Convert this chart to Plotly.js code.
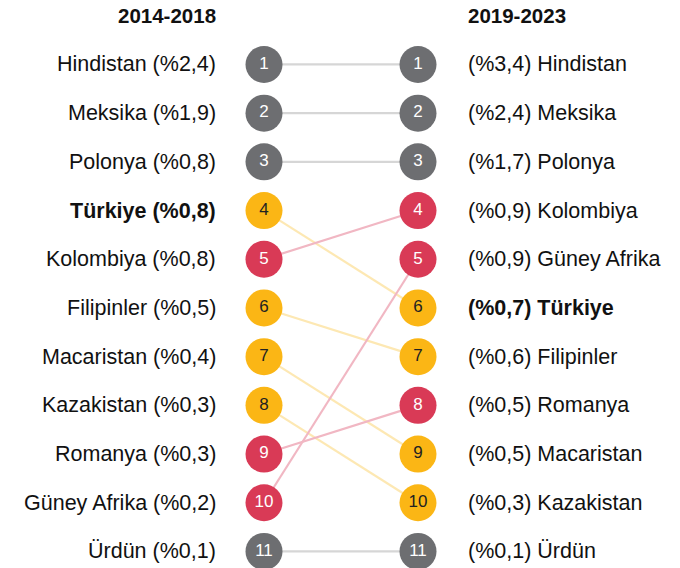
<!DOCTYPE html>
<html><head><meta charset="utf-8">
<script src="https://cdn.plot.ly/plotly-3.0.1.min.js"></script>
<style>html,body{margin:0;padding:0;background:#fff}#c{width:680px;height:568px}</style>
</head><body><div id="c"></div>
<script>
const periods = ["2014-2018", "2019-2023"];
const countries = ["Hindistan","Meksika","Polonya","Türkiye","Kolombiya","Filipinler","Macaristan","Kazakistan","Romanya","Güney Afrika","Ürdün"];
const rank1 = [1,2,3,4,5,6,7,8,9,10,11];
const rank2 = [1,2,3,6,4,7,9,10,8,5,11];
const share1 = ["2,4","1,9","0,8","0,8","0,8","0,5","0,4","0,3","0,3","0,2","0,1"];
const share2 = ["3,4","2,4","1,7","0,7","0,9","0,6","0,5","0,3","0,5","0,9","0,1"];
const group = ["g","g","g","y","r","y","y","y","r","r","g"];
const highlight = "Türkiye";

const dot = {g:"#6d6e71", y:"#fbb615", r:"#d93a56"};
const link = {g:"#d6d6d6", y:"#fde8b3", r:"#f1b7c3"};
const numCol = {g:"#ffffff", y:"#222222", r:"#ffffff"};
const FONT = "Liberation Sans, Arial, sans-serif";

const traces = [];
countries.forEach((c,i)=>{
  traces.push({x:[0,1], y:[rank1[i], rank2[i]], mode:"lines", line:{color:link[group[i]], width:2.2}, hoverinfo:"skip", showlegend:false});
});
traces.push({
  x: countries.map(()=>0), y: rank1, mode:"markers+text",
  text: rank1.map(String), textposition:"middle center",
  textfont:{family:FONT, size:17, color: group.map(g=>numCol[g])},
  marker:{size:37, color: group.map(g=>dot[g])}, showlegend:false, hoverinfo:"skip"
});
traces.push({
  x: countries.map(()=>1), y: rank2, mode:"markers+text",
  text: rank2.map(String), textposition:"middle center",
  textfont:{family:FONT, size:17, color: group.map(g=>numCol[g])},
  marker:{size:37, color: group.map(g=>dot[g])}, showlegend:false, hoverinfo:"skip"
});

const ann = [];
countries.forEach((c,i)=>{
  const b = c===highlight;
  const t1 = c + " (%" + share1[i] + ")";
  const t2 = "(%" + share2[i] + ") " + c;
  ann.push({x:0, y:rank1[i], xref:"x", yref:"y", text: b?"<b>"+t1+"</b>":t1, showarrow:false, xanchor:"right", yanchor:"middle", xshift:-46, font:{family:FONT, size:21.5, color:"#111"}});
  ann.push({x:1, y:rank2[i], xref:"x", yref:"y", text: b?"<b>"+t2+"</b>":t2, showarrow:false, xanchor:"left", yanchor:"middle", xshift:48, font:{family:FONT, size:21.5, color:"#111"}});
});
ann.push({x:0, y:0, xref:"x", yref:"y", text:"<b>"+periods[0]+"</b>", showarrow:false, xanchor:"right", yanchor:"middle", xshift:-46, yshift:0, font:{family:FONT, size:20.5, color:"#111"}});
ann.push({x:1, y:0, xref:"x", yref:"y", text:"<b>"+periods[1]+"</b>", showarrow:false, xanchor:"left", yanchor:"middle", xshift:48, yshift:0, font:{family:FONT, size:20.5, color:"#111"}});

const layout = {
  width:680, height:568, margin:{l:0,r:0,t:0,b:0},
  paper_bgcolor:"#fff", plot_bgcolor:"#fff",
  xaxis:{range:[-1.7143, 2.7013], visible:false, fixedrange:true},
  yaxis:{range:[11.34, -0.324], visible:false, fixedrange:true},
  annotations: ann, showlegend:false
};
Plotly.newPlot("c", traces, layout, {staticPlot:true, displayModeBar:false});
</script></body></html>
